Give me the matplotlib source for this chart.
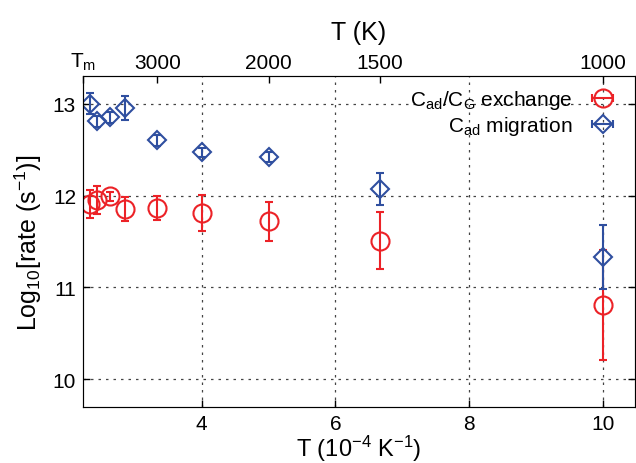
import numpy as np
import matplotlib
matplotlib.use("Agg")
import matplotlib.pyplot as plt

plt.rcParams['font.family'] = ['Liberation Sans', 'DejaVu Sans']
plt.rcParams['mathtext.fontset'] = 'custom'
plt.rcParams['mathtext.rm'] = 'Liberation Sans'
plt.rcParams['mathtext.it'] = 'Liberation Sans'
plt.rcParams['mathtext.bf'] = 'Liberation Sans'

# inverse temperature, 10^-4 K^-1
inv_T = [2.326, 2.439, 2.632, 2.857, 3.333, 4.0, 5.0, 6.667, 10.0]

# C_ad/C_G exchange
exch_rate = [11.91, 11.95, 11.99, 11.85, 11.86, 11.81, 11.72, 11.51, 10.81]
exch_err = [0.15, 0.15, 0.05, 0.13, 0.13, 0.20, 0.21, 0.31, 0.60]

# C_ad migration
migr_rate = [13.00, 12.81, 12.85, 12.95, 12.60, 12.47, 12.42, 12.07, 11.33]
migr_err = [0.11, 0.06, 0.06, 0.13, 0.06, 0.05, 0.05, 0.17, 0.35]

top_ticks = [2.222, 3.333, 5.0, 6.667, 10.0]
top_labels = ['T$_\\mathrm{m}$', '3000', '2000', '1500', '1000']

red = '#ec2227'
blue = '#2f4f9f'

fig = plt.figure(figsize=(6.36, 4.64), dpi=100)
ax = fig.add_axes([0.1305, 0.1207, 0.8675, 0.7133])

ax.errorbar(inv_T, exch_rate, yerr=exch_err, fmt='o', ms=13, mfc='none',
            mec=red, mew=1.5, color=red, elinewidth=1.5, capsize=3, capthick=1.5)
ax.errorbar(inv_T, migr_rate, yerr=migr_err, fmt='D', ms=9, mfc='none',
            mec=blue, mew=1.5, color=blue, elinewidth=1.5, capsize=3, capthick=1.5)

# legend proxies with horizontal bars, gnuplot style
h1 = ax.errorbar([np.nan], [np.nan], xerr=[1], fmt='o', ms=13, mfc='none',
                 mec=red, mew=1.5, color=red, elinewidth=1.5, capsize=3, capthick=1.5)
h2 = ax.errorbar([np.nan], [np.nan], xerr=[1], fmt='D', ms=9, mfc='none',
                 mec=blue, mew=1.5, color=blue, elinewidth=1.5, capsize=3, capthick=1.5)
ax.legend([h1, h2], ['C$_\\mathrm{ad}$/C$_\\mathrm{G}$ exchange', 'C$_\\mathrm{ad}$ migration'],
          loc='upper right', bbox_to_anchor=(1.012, 1.02), frameon=False,
          markerfirst=False, fontsize=15, handlelength=1.9, labelspacing=0.15,
          handletextpad=0.5)

ax.set_xlim(2.222, 10.48)
ax.set_ylim(9.7, 13.3)
ax.set_xticks([4, 6, 8, 10])
ax.set_yticks([10, 11, 12, 13])
ax.tick_params(direction='in', labelsize=15, length=5, width=1, right=True)
ax.tick_params(axis='x', pad=5)
ax.tick_params(axis='y', pad=5)
ax.grid(True, color='#444444', linestyle=(0, (2, 4)), linewidth=0.9)
for s in ax.spines.values():
    s.set_color('#555555')

ax.set_xlabel('T (10$^{-4}$ K$^{-1}$)', fontsize=17, labelpad=0)
ax.set_ylabel('Log$_{10}$[rate (s$^{-1}$)]', fontsize=18, labelpad=6)

ax2 = ax.twiny()
ax2.set_xlim(ax.get_xlim())
ax2.set_xticks(top_ticks)
ax2.set_xticklabels(top_labels)
ax2.tick_params(direction='in', labelsize=15, length=5, width=1, pad=3)
ax2.set_xlabel('T (K)', fontsize=18, labelpad=8)

fig.savefig('out.png', dpi=100)
